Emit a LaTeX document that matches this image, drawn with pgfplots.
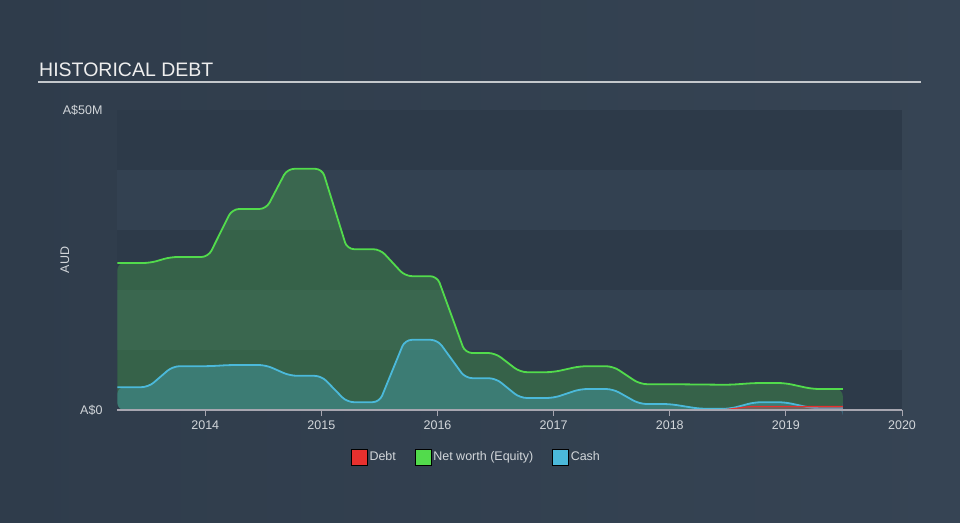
\documentclass[border=0pt]{standalone}
\usepackage{pgfplots}
\pgfplotsset{compat=1.18}
\usepackage{pgfplotstable}
\usepackage{fontspec}
\setmainfont{Liberation Sans}
\definecolor{bgl}{HTML}{2F3C4B}
\definecolor{bgr}{HTML}{364454}
\definecolor{banddark}{HTML}{2D3A49}
\definecolor{bandlight}{HTML}{334151}
\definecolor{titlec}{HTML}{EEEEEE}
\definecolor{tickc}{HTML}{D2D6DA}
\definecolor{rulec}{HTML}{C4C8CC}
\definecolor{axisc}{HTML}{A7A6B0}
\definecolor{netc}{HTML}{52DB4C}
\definecolor{cashc}{HTML}{4BB9DA}
\definecolor{debtc}{HTML}{E8302E}
\pgfplotstableread{
x y
2013.243 24.5
2013.527 24.5
2013.70 25.5
2014.026 25.5
2014.232 33.5
2014.525 33.5
2014.706 40.2
2015.007 40.2
2015.222 26.8
2015.506 26.8
2015.721 22.3
2015.997 22.3
2016.238 9.5
2016.496 9.5
2016.711 6.3
2016.995 6.3
2017.227 7.3
2017.511 7.3
2017.744 4.3
2018.0 4.3
2018.518 4.2
2018.733 4.5
2018.991 4.5
2019.228 3.5
2019.49 3.5
}\networth
\pgfplotstableread{
x y
2013.243 3.8
2013.51 3.8
2013.72 7.3
2014.04 7.3
2014.21 7.5
2014.52 7.5
2014.73 5.7
2015.0 5.7
2015.22 1.3
2015.5 1.3
2015.72 11.7
2016.0 11.7
2016.24 5.3
2016.5 5.3
2016.71 2.0
2017.0 2.0
2017.23 3.5
2017.51 3.5
2017.74 1.0
2018.0 1.0
2018.26 0.2
2018.52 0.2
2018.73 1.3
2018.99 1.3
2019.23 0.3
2019.49 0.3
}\cash
\pgfplotstableread{
x y
2018.45 0
2018.70 0.6
2019.49 0.6
}\debt
\begin{document}
\begin{tikzpicture}[x=1pt,y=1pt]
\shade[left color=bgl, right color=bgr] (0,0) rectangle (960,522);
\node[anchor=base west, text=titlec, font=\fontsize{19.5}{22}\selectfont, inner sep=0] at (39,445) {HISTORICAL DEBT};
\draw[rulec, line width=1.6] (38,440) -- (921,440);
\node[rotate=90, font=\fontsize{12.5}{14}\selectfont, text=tickc] at (65,262) {AUD};
\begin{axis}[
  at={(117pt,112pt)}, anchor=south west,
  width=785pt, height=300pt, scale only axis,
  xmin=2013.24, xmax=2020, ymin=0, ymax=50,
  axis on top,
  axis lines*=left,
  y axis line style={draw=none},
  x axis line style={draw=axisc, line width=1.3pt},
  xtick={2014,2015,2016,2017,2018,2019,2020},
  xticklabels={2014,2015,2016,2017,2018,2019,2020},
  ytick={0,50}, yticklabels={A\$0,A\$50M},
  tick align=outside, major tick length=6pt,
  xtick style={draw=axisc, line width=1pt},
  ytick style={draw=none},
  ticklabel style={text=tickc, font=\fontsize{12.5}{14}\selectfont},
  yticklabel style={xshift=-5pt},
  xticklabel style={yshift=-1pt},
  legend style={at={(0.458,-0.157)}, anchor=center, draw=none, fill=none,
    text=tickc, font=\fontsize{12.5}{14}\selectfont, legend columns=-1,
    /tikz/every even column/.append style={column sep=17pt},
    /tikz/every odd column/.append style={column sep=0pt}},
  legend image code/.code={\fill[#1] (0pt,-8pt) rectangle (16pt,8pt);},
  clip=false,
]
\fill[banddark] (axis cs:2013.24,0) rectangle (axis cs:2020,10);
\fill[bandlight] (axis cs:2013.24,10) rectangle (axis cs:2020,20);
\fill[banddark] (axis cs:2013.24,20) rectangle (axis cs:2020,30);
\fill[bandlight] (axis cs:2013.24,30) rectangle (axis cs:2020,40);
\fill[banddark] (axis cs:2013.24,40) rectangle (axis cs:2020,50);

\addlegendimage{fill=debtc}
\addlegendentry{Debt}
\addlegendimage{fill=netc}
\addlegendentry{Net worth (Equity)}
\addlegendimage{fill=cashc}
\addlegendentry{Cash}

% Net worth
\addplot[draw=none, fill=netc, fill opacity=0.25, rounded corners=7pt, forget plot] table {\networth} \closedcycle;
\addplot[draw=netc, line width=1.8pt, rounded corners=7pt, forget plot] table {\networth};
% Cash
\addplot[draw=none, fill=cashc, fill opacity=0.3, rounded corners=7pt, forget plot] table {\cash} \closedcycle;
\addplot[draw=cashc, line width=1.8pt, rounded corners=7pt, forget plot] table {\cash};
% Debt
\addplot[draw=none, fill=debtc, fill opacity=0.3, rounded corners=4pt, forget plot] table {\debt} \closedcycle;
\addplot[draw=debtc, line width=1.2pt, rounded corners=4pt, forget plot] table {\debt};
\end{axis}
\end{tikzpicture}
\end{document}
